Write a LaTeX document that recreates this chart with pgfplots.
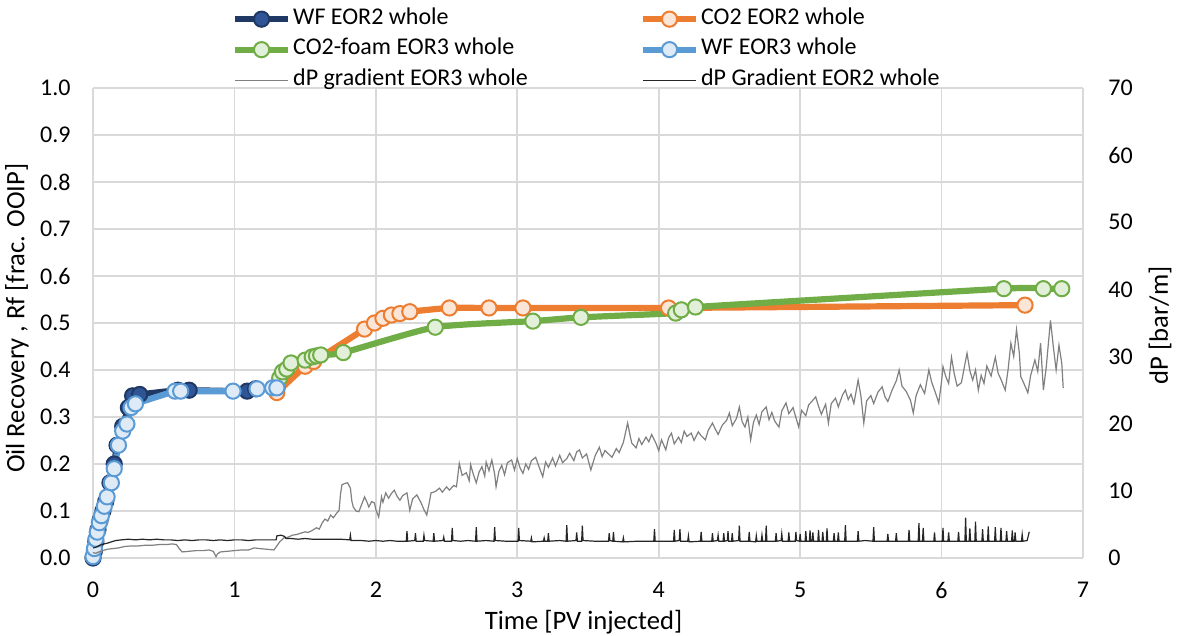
\documentclass[border=0pt]{standalone}
\usepackage{fontspec}
\setmainfont{Carlito}
\usepackage{pgfplots}
\pgfplotsset{compat=1.18}

\definecolor{navyline}{HTML}{203864}
\definecolor{navyfill}{HTML}{2F5597}
\definecolor{orangeline}{HTML}{ED7D31}
\definecolor{orangefill}{HTML}{FBE5D6}
\definecolor{greenline}{HTML}{70AD47}
\definecolor{greenfill}{HTML}{E2F0D9}
\definecolor{blueline}{HTML}{5B9BD5}
\definecolor{bluefill}{HTML}{DEEBF7}
\definecolor{gridgray}{HTML}{D9D9D9}
\definecolor{dpgray}{HTML}{808080}
\definecolor{dpdark}{HTML}{262626}

\pgfplotsset{
  rfline/.style 2 args={color=#1, line width=3.1pt, smooth, tension=0.35,
    mark=*, mark size=3.8pt,
    mark options={fill=#2, draw=#1, line width=1pt, solid}},
  dpline/.style={color=#1, line width=0.6pt, sharp plot, mark=none},
  common/.style={
    width=495pt, height=235pt, scale only axis,
    at={(0,0)}, anchor=south west,
    xmin=0, xmax=7,
    major tick length=0pt,
    axis line style={draw=none},
    ticklabel style={font=\fontsize{12}{14}\selectfont, text=black},
    /pgf/number format/assume math mode=true,
    legend image code/.code={
      \draw[mark repeat=2, mark phase=2]
        plot coordinates {(0pt,0pt) (13.25pt,0pt) (26.5pt,0pt)};
    },
  },
}

\begin{document}
\begin{tikzpicture}
\path[use as bounding box] (-46.5pt,-39pt) rectangle (542pt,279pt);

% recovery factor, left axis
\begin{axis}[common,
  ymin=0, ymax=1,
  ytick={0,0.1,0.2,0.3,0.4,0.5,0.6,0.7,0.8,0.9,1.0},
  xtick={0,1,2,3,4,5,6,7},
  yticklabel style={/pgf/number format/fixed, /pgf/number format/fixed zerofill,
    /pgf/number format/precision=1, anchor=east, inner sep=0pt, xshift=-11pt},
  xticklabel style={anchor=center, inner sep=0pt, yshift=-16pt},
  grid=major, grid style={gridgray, line width=0.8pt},
  clip=false,
  xlabel={Time [PV injected]},
  ylabel={Oil Recovery , Rf [frac. OOIP]},
  every axis x label/.style={at={(axis description cs:0.4955,-0.136)}, anchor=center,
    font=\fontsize{13.3}{16}\selectfont},
  every axis y label/.style={at={(axis description cs:-0.0768,0.51)}, anchor=center,
    rotate=90, font=\fontsize{13.3}{16}\selectfont},
]
% WF EOR2 whole
\addplot[rfline={navyline}{navyfill}] coordinates {
(0.000,0.000) (0.010,0.015) (0.020,0.035) (0.035,0.060) (0.050,0.080)
(0.070,0.100) (0.090,0.120) (0.120,0.160) (0.150,0.200) (0.170,0.240)
(0.210,0.280) (0.250,0.320) (0.280,0.345) (0.330,0.348) (0.600,0.357)
(0.680,0.357) (1.090,0.355) (1.150,0.360) (1.300,0.360)
};
% CO2 EOR2 whole
\addplot[rfline={orangeline}{orangefill}] coordinates {
(1.300,0.352) (1.500,0.408) (1.560,0.418) (1.920,0.487) (1.990,0.500)
(2.050,0.510) (2.110,0.517) (2.170,0.520) (2.240,0.524) (2.520,0.532)
(2.800,0.532) (3.040,0.532) (4.070,0.532) (6.590,0.538)
};
% CO2-foam EOR3 whole
\addplot[rfline={greenline}{greenfill}] coordinates {
(1.300,0.365) (1.320,0.383) (1.340,0.396) (1.370,0.402) (1.400,0.415)
(1.500,0.421) (1.550,0.428) (1.580,0.430) (1.610,0.432) (1.770,0.437)
(2.420,0.491) (3.110,0.504) (3.450,0.512) (4.120,0.521) (4.160,0.528)
(4.260,0.534) (6.440,0.573) (6.720,0.573) (6.850,0.573)
};
% WF EOR3 whole
\addplot[rfline={blueline}{bluefill}] coordinates {
(0.000,0.003) (0.010,0.020) (0.020,0.040) (0.030,0.055) (0.045,0.075)
(0.060,0.090) (0.080,0.110) (0.100,0.130) (0.130,0.160) (0.150,0.190)
(0.180,0.240) (0.210,0.270) (0.240,0.285) (0.270,0.320) (0.300,0.328)
(0.580,0.355) (0.620,0.355) (0.990,0.355) (1.160,0.360) (1.270,0.362)
(1.300,0.362)
};
\end{axis}

% pressure gradient, right axis
\begin{axis}[common,
  axis x line=none, axis y line*=right,
  ymin=0, ymax=70, ytick={0,10,20,30,40,50,60,70},
  yticklabel style={anchor=west, inner sep=0pt, xshift=12.5pt},
  ylabel={dP [bar/m]},
  every axis y label/.style={at={(axis description cs:1.0778,0.495)}, anchor=center,
    rotate=90, font=\fontsize{13.3}{16}\selectfont},
  legend columns=2,
  legend cell align=left,
  legend style={at={(axis description cs:0.1404,1.172)}, anchor=north west,
    draw=none, fill=none, inner sep=0pt, outer sep=0pt,
    font=\fontsize{12}{14}\selectfont, row sep=3.25pt,
    nodes={inner xsep=1pt, inner ysep=1pt, text height=0.75em, text depth=0.25em},
    /tikz/column 2/.style={column sep=55pt}},
]
\addlegendimage{rfline={navyline}{navyfill}}
\addlegendentry{WF EOR2 whole}
\addlegendimage{rfline={orangeline}{orangefill}}
\addlegendentry{CO2 EOR2 whole}
\addlegendimage{rfline={greenline}{greenfill}}
\addlegendentry{CO2-foam EOR3 whole}
\addlegendimage{rfline={blueline}{bluefill}}
\addlegendentry{WF EOR3 whole}

% dP gradient EOR3 whole
\addplot[dpline=dpgray] table {
x y
0.00 0.8
0.02 0.7
0.04 0.9
0.07 1.1
0.10 1.3
0.14 1.4
0.18 1.5
0.22 1.7
0.27 1.8
0.32 1.8
0.37 1.9
0.42 1.9
0.47 2.0
0.52 2.0
0.56 2.1
0.59 2.0
0.61 1.4
0.63 0.9
0.68 1.0
0.73 1.1
0.78 1.1
0.82 1.2
0.85 1.0
0.87 0.2
0.88 0.6
0.90 0.9
0.95 1.0
1.00 1.1
1.05 1.2
1.10 1.2
1.14 1.5
1.18 1.4
1.23 1.3
1.28 1.2
1.30 1.8
1.32 2.4
1.35 3.0
1.38 3.1
1.41 3.4
1.44 3.5
1.47 3.7
1.50 3.9
1.52 3.8
1.55 4.1
1.58 4.5
1.60 4.3
1.62 5.2
1.64 5.8
1.66 5.5
1.68 6.4
1.70 6.0
1.72 6.6
1.74 7.1
1.75 9.5
1.76 10.9
1.78 11.1
1.80 11.2
1.82 10.4
1.83 8.5
1.84 7.6
1.86 7.0
1.88 6.9
1.90 8.0
1.92 9.1
1.94 8.2
1.95 7.6
1.97 8.4
1.99 8.2
2.00 7.2
2.02 6.1
2.04 9.1
2.05 8.3
2.07 9.7
2.09 8.9
2.11 9.6
2.13 10.1
2.15 9.2
2.17 8.6
2.19 9.3
2.22 9.7
2.24 7.1
2.26 8.8
2.29 9.4
2.31 8.6
2.32 8.2
2.34 7.2
2.36 6.4
2.38 8.5
2.39 9.7
2.42 9.9
2.45 10.4
2.47 9.8
2.50 10.6
2.52 10.1
2.55 10.8
2.57 10.6
2.59 14.1
2.61 12.3
2.64 12.7
2.66 11.5
2.67 13.9
2.69 12.4
2.71 11.2
2.73 12.8
2.75 13.6
2.77 12.2
2.78 14.3
2.80 13.0
2.82 14.6
2.84 12.5
2.85 10.6
2.87 12.9
2.89 13.8
2.91 12.4
2.93 14.2
2.96 14.6
2.98 13.1
3.00 14.8
3.02 13.4
3.04 12.6
3.06 14.0
3.08 13.2
3.10 14.5
3.13 15.0
3.15 13.8
3.18 12.1
3.20 14.3
3.22 13.5
3.25 14.9
3.27 13.7
3.30 15.3
3.32 14.2
3.35 14.8
3.37 15.6
3.40 14.5
3.42 15.8
3.44 16.1
3.46 14.9
3.49 15.5
3.52 13.1
3.55 15.2
3.58 16.5
3.60 15.1
3.62 16.0
3.65 15.4
3.67 15.0
3.70 16.3
3.72 15.7
3.75 17.2
3.78 20.1
3.80 18.0
3.81 17.1
3.84 16.4
3.86 17.8
3.88 16.9
3.91 18.0
3.93 17.3
3.95 18.4
3.98 17.1
4.00 16.0
4.02 17.6
4.05 16.1
4.07 17.9
4.09 18.6
4.11 17.0
4.14 18.0
4.16 17.2
4.18 18.9
4.20 18.1
4.23 18.6
4.25 17.5
4.28 18.8
4.30 18.2
4.33 17.6
4.35 19.0
4.38 20.1
4.40 19.2
4.42 18.4
4.45 19.8
4.48 20.5
4.50 21.6
4.52 19.7
4.55 20.8
4.57 22.5
4.59 20.3
4.61 19.5
4.63 21.0
4.65 17.6
4.67 20.2
4.69 21.3
4.71 19.9
4.73 21.8
4.76 22.5
4.78 20.6
4.80 21.7
4.82 20.4
4.85 19.5
4.87 21.9
4.90 23.1
4.92 21.5
4.95 22.4
4.97 20.9
4.99 19.5
5.01 22.0
5.04 21.2
5.06 22.8
5.09 23.5
5.11 24.0
5.13 22.6
5.15 21.4
5.18 22.9
5.20 20.1
5.22 23.0
5.25 23.8
5.27 22.5
5.30 24.3
5.32 25.0
5.34 23.6
5.36 24.4
5.38 23.0
5.41 26.5
5.43 24.1
5.45 20.1
5.47 23.4
5.50 24.2
5.52 23.0
5.55 24.7
5.58 25.5
5.60 24.0
5.62 23.3
5.65 25.0
5.68 26.4
5.70 28.0
5.72 25.6
5.75 24.8
5.78 23.5
5.80 21.6
5.82 24.2
5.85 25.8
5.88 24.5
5.91 28.0
5.93 26.2
5.96 24.4
5.98 23.1
6.00 26.3
6.01 28.5
6.03 27.0
6.05 26.0
6.07 29.9
6.09 27.4
6.11 25.6
6.14 26.1
6.16 28.3
6.18 30.5
6.20 27.9
6.22 26.5
6.24 28.0
6.26 25.0
6.28 27.2
6.30 26.0
6.32 28.6
6.35 27.1
6.38 29.9
6.40 27.5
6.42 26.6
6.45 25.0
6.47 28.0
6.49 32.0
6.51 30.0
6.53 34.0
6.55 30.5
6.56 27.0
6.58 26.1
6.61 24.6
6.63 27.2
6.66 29.5
6.68 27.8
6.70 32.0
6.72 25.0
6.74 28.4
6.77 35.4
6.79 31.5
6.81 28.0
6.83 31.7
6.85 29.0
6.86 25.3
};
\addlegendentry{dP gradient EOR3 whole}

% dP Gradient EOR2 whole
\addplot[dpline=dpdark] table {
x y
0.000 1.5
0.020 1.6
0.040 1.8
0.060 2.0
0.080 2.1
0.100 2.2
0.130 2.4
0.160 2.6
0.200 2.7
0.250 2.8
0.300 2.7
0.350 2.8
0.400 2.7
0.450 2.8
0.500 2.7
0.550 2.7
0.600 2.6
0.650 2.7
0.700 2.6
0.750 2.7
0.800 2.7
0.850 2.6
0.900 2.7
0.950 2.6
1.000 2.7
1.050 2.7
1.100 2.6
1.150 2.7
1.200 2.7
1.250 2.7
1.295 2.7
1.300 3.3
1.330 3.4
1.355 3.2
1.365 2.9
1.400 2.9
1.450 2.8
1.500 2.9
1.550 2.8
1.600 2.8
1.650 2.8
1.700 2.8
1.750 2.8
1.815 2.7
1.820 3.4
1.825 2.6
1.900 2.6
1.950 2.5
2.000 2.6
2.050 2.5
2.100 2.6
2.150 2.5
2.215 2.5
2.220 4.0
2.225 2.5
2.275 2.6
2.280 3.7
2.285 2.5
2.335 2.5
2.340 3.4
2.345 2.6
2.405 2.5
2.410 3.7
2.415 2.5
2.475 2.6
2.480 3.1
2.485 2.5
2.535 2.5
2.540 4.5
2.545 2.6
2.600 2.5
2.650 2.6
2.705 2.5
2.710 4.6
2.715 2.5
2.780 2.6
2.835 2.5
2.840 4.6
2.845 2.6
2.920 2.5
3.005 2.5
3.010 4.5
3.015 2.6
3.095 2.5
3.100 3.0
3.105 2.4
3.185 2.5
3.190 3.0
3.195 2.5
3.215 2.5
3.220 3.7
3.225 2.5
3.300 2.6
3.345 2.5
3.350 4.9
3.355 2.5
3.415 2.6
3.420 3.8
3.425 2.5
3.455 2.5
3.460 4.8
3.465 2.6
3.550 2.5
3.645 2.5
3.650 3.7
3.655 2.6
3.675 2.5
3.680 3.9
3.685 2.5
3.745 2.4
3.750 3.0
3.755 2.4
3.850 2.5
3.965 2.5
3.970 4.3
3.975 2.5
4.050 2.5
4.105 2.5
4.110 4.2
4.115 2.5
4.145 2.6
4.150 4.3
4.155 2.5
4.205 2.5
4.210 3.3
4.215 2.4
4.295 2.5
4.300 3.9
4.305 2.5
4.375 2.5
4.380 3.7
4.385 2.5
4.415 2.6
4.420 3.4
4.425 2.5
4.455 2.5
4.460 3.7
4.465 2.5
4.485 2.6
4.490 4.0
4.495 2.5
4.515 2.5
4.520 3.7
4.525 2.5
4.565 2.6
4.570 4.8
4.575 2.5
4.635 2.5
4.640 3.9
4.645 2.5
4.685 2.4
4.690 3.3
4.695 2.5
4.725 2.5
4.730 3.4
4.735 2.5
4.755 2.5
4.760 4.8
4.765 2.5
4.825 2.5
4.830 3.7
4.835 2.5
4.865 2.6
4.870 3.6
4.875 2.5
4.915 2.5
4.920 3.8
4.925 2.5
4.965 2.5
4.970 3.9
4.975 2.6
4.995 2.5
5.000 3.6
5.005 2.5
5.035 2.5
5.040 4.0
5.045 2.5
5.065 2.5
5.070 4.1
5.075 2.5
5.085 2.5
5.090 3.8
5.095 2.5
5.125 2.5
5.130 4.2
5.135 2.5
5.155 2.5
5.160 3.9
5.165 2.5
5.185 2.5
5.190 4.4
5.195 2.5
5.235 2.5
5.240 3.7
5.245 2.5
5.265 2.5
5.270 3.8
5.275 2.5
5.315 2.5
5.320 4.9
5.325 2.5
5.405 2.5
5.410 4.0
5.415 2.5
5.460 2.6
5.515 2.5
5.520 4.6
5.525 2.5
5.615 2.5
5.620 3.6
5.625 2.5
5.675 2.5
5.680 3.7
5.685 2.5
5.765 2.5
5.770 4.2
5.775 2.5
5.835 2.5
5.840 5.2
5.845 2.5
5.865 2.5
5.870 4.5
5.875 2.5
5.945 2.5
5.950 3.8
5.955 2.5
6.005 2.5
6.010 4.5
6.015 2.5
6.045 2.5
6.050 3.8
6.055 2.5
6.115 2.5
6.120 3.9
6.125 2.5
6.165 2.5
6.170 6.0
6.175 2.5
6.195 2.5
6.200 4.4
6.205 2.5
6.235 2.5
6.240 5.4
6.245 2.5
6.285 2.5
6.290 4.3
6.295 2.5
6.325 2.5
6.330 4.7
6.335 2.5
6.375 2.5
6.380 4.6
6.385 2.5
6.415 2.5
6.420 4.5
6.425 2.5
6.455 2.5
6.460 4.0
6.465 2.5
6.495 2.5
6.500 4.1
6.505 2.5
6.515 2.5
6.520 3.8
6.525 2.5
6.565 2.5
6.570 3.5
6.575 2.5
6.605 2.6
6.620 3.9
};
\addlegendentry{dP Gradient EOR2 whole}
\end{axis}
\end{tikzpicture}
\end{document}
